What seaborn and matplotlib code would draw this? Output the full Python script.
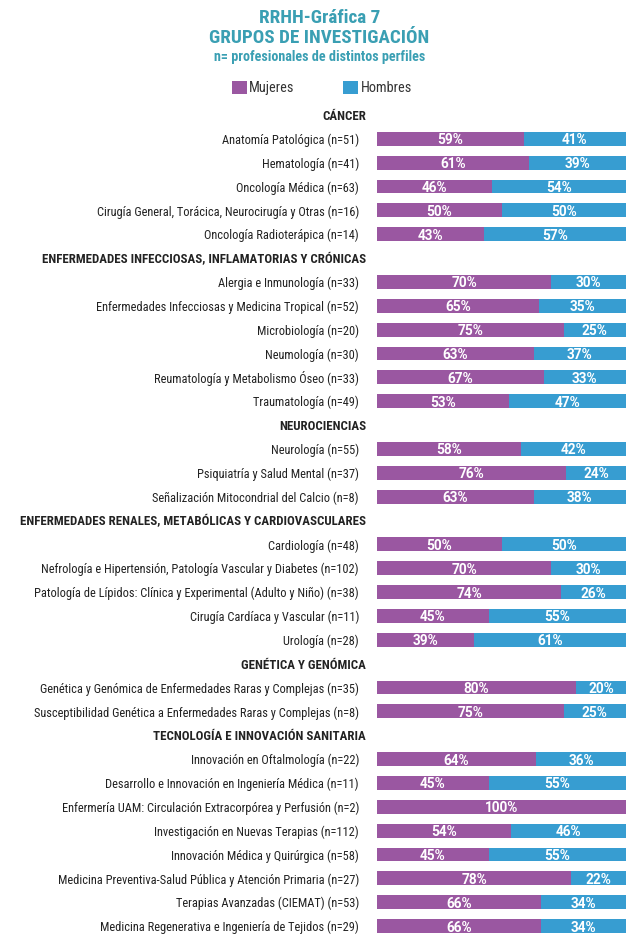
import numpy as np
import pandas as pd
import matplotlib
matplotlib.use("Agg")
import matplotlib.pyplot as plt
from matplotlib import font_manager
from matplotlib.patches import Patch
import seaborn as sns

# ---------------- data ----------------
groups = [
    "CÁNCER",
    "ENFERMEDADES INFECCIOSAS, INFLAMATORIAS Y CRÓNICAS",
    "NEUROCIENCIAS",
    "ENFERMEDADES RENALES, METABÓLICAS Y CARDIOVASCULARES",
    "GENÉTICA Y GENÓMICA",
    "TECNOLOGÍA E INNOVACIÓN SANITARIA",
]
cancer_labels = ["Anatomía Patológica (n=51)", "Hematología (n=41)", "Oncología Médica (n=63)",
                 "Cirugía General, Torácica, Neurocirugía y Otras (n=16)", "Oncología Radioterápica (n=14)"]
cancer_m = [59, 61, 46, 50, 43]
cancer_h = [41, 39, 54, 50, 57]

infec_labels = ["Alergia e Inmunología (n=33)", "Enfermedades Infecciosas y Medicina Tropical (n=52)",
                "Microbiología (n=20)", "Neumología (n=30)", "Reumatología y Metabolismo Óseo (n=33)",
                "Traumatología (n=49)"]
infec_m = [70, 65, 75, 63, 67, 53]
infec_h = [30, 35, 25, 37, 33, 47]

neuro_labels = ["Neurología (n=55)", "Psiquiatría y Salud Mental (n=37)",
                "Señalización Mitocondrial del Calcio (n=8)"]
neuro_m = [58, 76, 63]
neuro_h = [42, 24, 38]

renal_labels = ["Cardiología (n=48)", "Nefrología e Hipertensión, Patología Vascular y Diabetes (n=102)",
                "Patología de Lípidos: Clínica y Experimental (Adulto y Niño) (n=38)",
                "Cirugía Cardíaca y Vascular (n=11)", "Urología (n=28)"]
renal_m = [50, 70, 74, 45, 39]
renal_h = [50, 30, 26, 55, 61]

gen_labels = ["Genética y Genómica de Enfermedades Raras y Complejas (n=35)",
              "Susceptibilidad Genética a Enfermedades Raras y Complejas (n=8)"]
gen_m = [80, 75]
gen_h = [20, 25]

tec_labels = ["Innovación en Oftalmología (n=22)", "Desarrollo e Innovación en Ingeniería Médica (n=11)",
              "Enfermería UAM: Circulación Extracorpórea y Perfusión (n=2)",
              "Investigación en Nuevas Terapias (n=112)", "Innovación Médica y Quirúrgica (n=58)",
              "Medicina Preventiva-Salud Pública y Atención Primaria (n=27)",
              "Terapias Avanzadas (CIEMAT) (n=53)", "Medicina Regenerativa e Ingeniería de Tejidos (n=29)"]
tec_m = [64, 45, 100, 54, 45, 78, 66, 66]
tec_h = [36, 55, 0, 46, 55, 22, 34, 34]

sections = [
    (groups[0], cancer_labels, cancer_m, cancer_h),
    (groups[1], infec_labels, infec_m, infec_h),
    (groups[2], neuro_labels, neuro_m, neuro_h),
    (groups[3], renal_labels, renal_m, renal_h),
    (groups[4], gen_labels, gen_m, gen_h),
    (groups[5], tec_labels, tec_m, tec_h),
]

rows, muj, hom, is_header = [], [], [], []
for g, labs, m, h in sections:
    rows.append(g); muj.append(np.nan); hom.append(np.nan); is_header.append(True)
    for l, a, b in zip(labs, m, h):
        rows.append(l); muj.append(a); hom.append(b); is_header.append(False)

df = pd.DataFrame({"row": rows, "Mujeres": muj, "Hombres": hom})
df["total"] = df["Mujeres"] + df["Hombres"]

# ---------------- style ----------------
PURPLE = "#9a57a1"
BLUE = "#379dd1"
TEAL = "#3a9fb3"
TEXT = "#222222"

sns.set_theme(style="white")
avail = {f.name for f in font_manager.fontManager.ttflist}
fam = "DejaVu Sans"
for cand in ["Roboto Condensed", "Liberation Sans Narrow", "DejaVu Sans Condensed", "Roboto", "Liberation Sans"]:
    if cand in avail:
        fam = cand
        break
wide = "Roboto" if "Roboto" in avail else "DejaVu Sans"
plt.rcParams["font.family"] = [fam, "DejaVu Sans"]

fig = plt.figure(figsize=(6.39, 9.44), dpi=100)
ax = fig.add_axes([377 / 639, 1 - 938 / 944, (626 - 377) / 639, (938 - 103) / 944])

sns.barplot(data=df, y="row", x="total", order=rows, orient="h", color=BLUE,
            width=0.58, errorbar=None, ax=ax, saturation=1, edgecolor="none")
sns.barplot(data=df, y="row", x="Mujeres", order=rows, orient="h", color=PURPLE,
            width=0.58, errorbar=None, ax=ax, saturation=1, edgecolor="none")

ax.set_xlim(0, 100)
ax.set_ylim(len(rows) - 0.5, -0.5)
ax.set_xlabel("")
ax.set_ylabel("")
ax.set_xticks([])
for s in ax.spines.values():
    s.set_visible(False)

ax.set_yticks(range(len(rows)))
ax.set_yticklabels(rows)
ax.tick_params(axis="y", length=0)
for tick, lab, hdr in zip(ax.yaxis.get_major_ticks(), ax.get_yticklabels(), is_header):
    lab.set_color(TEXT)
    if hdr:
        lab.set_fontweight("bold")
        lab.set_fontsize(9.3)
        tick.set_pad(8)
    else:
        lab.set_fontsize(8.9)
        tick.set_pad(13)

# value labels
for i, (m, h) in enumerate(zip(df["Mujeres"], df["Hombres"])):
    if np.isnan(m):
        continue
    if m > 0:
        ax.text(m / 2, i, f"{int(m)}%", ha="center", va="center_baseline", color="white",
                fontsize=9.8, fontweight="bold", family=[wide, "DejaVu Sans"])
    if h > 0:
        ax.text(m + (100 - m) / 2, i, f"{int(h)}%", ha="center", va="center_baseline", color="white",
                fontsize=9.8, fontweight="bold", family=[wide, "DejaVu Sans"])

# titles
fig.text(0.5, 1 - 18 / 944, "RRHH-Gráfica 7", ha="center", va="center", color=TEAL,
         fontsize=13.8, fontweight="bold")
fig.text(0.5, 1 - 38 / 944, "GRUPOS DE INVESTIGACIÓN", ha="center", va="center", color=TEAL,
         fontsize=13.8, fontweight="bold")
fig.text(0.5, 1 - 57 / 944, "n= profesionales de distintos perfiles", ha="center", va="center",
         color=TEAL, fontsize=10.2, fontweight="bold")

handles = [Patch(facecolor=PURPLE, edgecolor="none", label="Mujeres"),
           Patch(facecolor=BLUE, edgecolor="none", label="Hombres")]
leg = fig.legend(handles=handles, loc="center", bbox_to_anchor=(322 / 639, 1 - 88 / 944), ncol=2,
                 frameon=False, handlelength=1.0, handleheight=1.0, handletextpad=0.2,
                 columnspacing=3.4, fontsize=10.3)
for t in leg.get_texts():
    t.set_color("#333333")

fig.savefig("out.png", dpi=100)
